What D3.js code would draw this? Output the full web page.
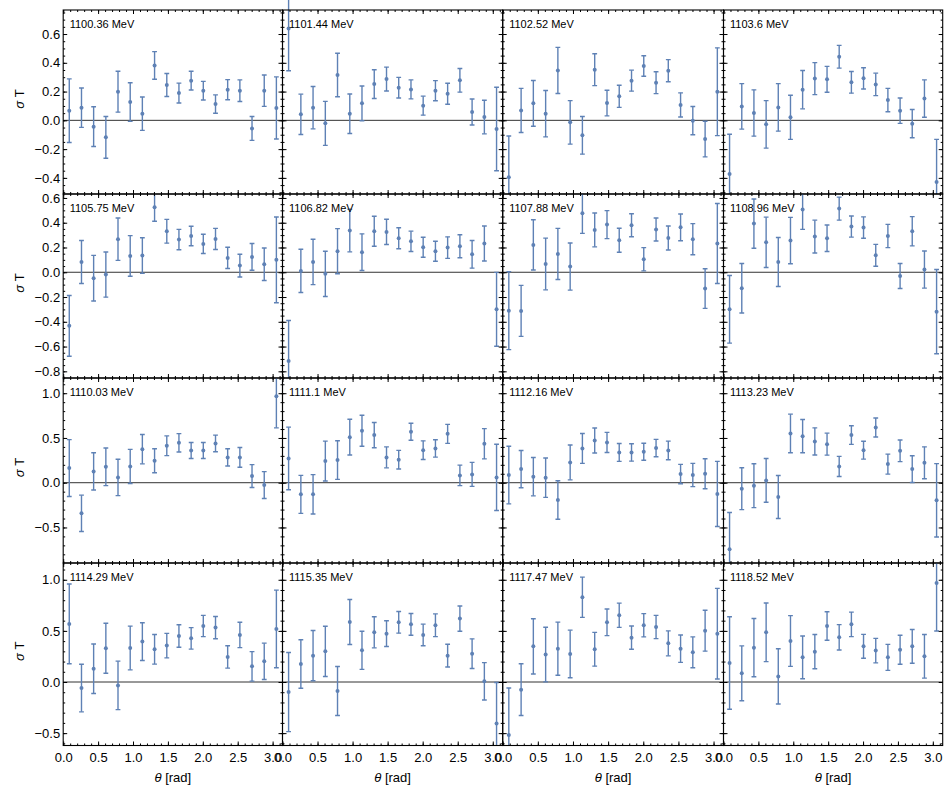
<!DOCTYPE html>
<html>
<head>
<meta charset="utf-8">
<script src="https://cdn.jsdelivr.net/npm/d3@7"></script>
<style>
  body { margin: 0; background: #fff; }
  svg { display: block; font-family: "Liberation Sans", Arial, sans-serif; }
</style>
</head>
<body>
<svg id="chart" width="944" height="790"></svg>
<script>
// theta bin centres (rad), 18 bins
var theta = [0.087, 0.262, 0.436, 0.611, 0.785, 0.960, 1.134, 1.309, 1.484, 1.658, 1.833, 2.007, 2.182, 2.356, 2.531, 2.705, 2.880, 3.054];

var energies = ["1100.36", "1101.44", "1102.52", "1103.6", "1105.75", "1106.82", "1107.88", "1108.96",
                "1110.03", "1111.1", "1112.16", "1113.23", "1114.29", "1115.35", "1117.47", "1118.52"];

// sigma T and its error, one pair of arrays per energy
var st_1100_36 = [0.067, 0.088, -0.044, -0.118, 0.199, 0.127, 0.046, 0.382, 0.246, 0.19, 0.276, 0.206, 0.113, 0.213, 0.206, -0.056, 0.206, 0.086];
var er_1100_36 = [0.221, 0.137, 0.138, 0.145, 0.142, 0.134, 0.116, 0.096, 0.08, 0.069, 0.065, 0.065, 0.064, 0.07, 0.075, 0.083, 0.109, 0.216];
var st_1101_44 = [0.639, 0.042, 0.088, -0.021, 0.315, 0.046, 0.118, 0.252, 0.287, 0.227, 0.215, 0.102, 0.206, 0.185, 0.278, 0.058, 0.023, -0.06];
var er_1101_44 = [0.294, 0.14, 0.147, 0.153, 0.151, 0.137, 0.121, 0.1, 0.083, 0.072, 0.066, 0.066, 0.07, 0.073, 0.082, 0.09, 0.117, 0.29];
var st_1102_52 = [-0.396, 0.069, 0.118, 0.046, 0.347, -0.014, -0.104, 0.352, 0.12, 0.167, 0.276, 0.378, 0.262, 0.345, 0.107, -0.002, -0.13, 0.199];
var er_1102_52 = [0.287, 0.153, 0.159, 0.161, 0.16, 0.151, 0.131, 0.111, 0.089, 0.077, 0.073, 0.071, 0.076, 0.077, 0.084, 0.098, 0.124, 0.305];
var st_1103_6 = [-0.373, 0.097, 0.051, -0.028, 0.09, 0.021, 0.213, 0.29, 0.285, 0.442, 0.264, 0.292, 0.25, 0.141, 0.067, -0.023, 0.151, -0.429];
var er_1103_6 = [0.276, 0.158, 0.161, 0.165, 0.165, 0.153, 0.133, 0.111, 0.09, 0.079, 0.075, 0.074, 0.078, 0.081, 0.088, 0.098, 0.13, 0.297];
var st_1105_75 = [-0.433, 0.083, -0.048, -0.019, 0.267, 0.132, 0.135, 0.525, 0.331, 0.264, 0.293, 0.229, 0.269, 0.116, 0.054, 0.124, 0.065, 0.1];
var er_1105_75 = [0.245, 0.174, 0.184, 0.182, 0.171, 0.164, 0.144, 0.113, 0.096, 0.082, 0.079, 0.078, 0.085, 0.086, 0.092, 0.108, 0.131, 0.346];
var st_1106_82 = [-0.716, 0.011, 0.083, -0.013, 0.17, 0.337, 0.162, 0.331, 0.326, 0.275, 0.25, 0.202, 0.17, 0.199, 0.21, 0.145, 0.232, -0.299];
var er_1106_82 = [0.326, 0.175, 0.183, 0.183, 0.182, 0.172, 0.148, 0.121, 0.102, 0.085, 0.082, 0.081, 0.081, 0.087, 0.093, 0.112, 0.141, 0.298];
var st_1107_88 = [-0.31, -0.312, 0.221, 0.067, 0.148, 0.046, 0.477, 0.342, 0.385, 0.258, 0.38, 0.105, 0.345, 0.277, 0.363, 0.267, -0.132, 0.232];
var er_1107_88 = [0.315, 0.206, 0.203, 0.209, 0.206, 0.19, 0.163, 0.137, 0.113, 0.097, 0.093, 0.094, 0.093, 0.097, 0.108, 0.126, 0.16, 0.323];
var st_1108_96 = [-0.299, -0.129, 0.393, 0.242, 0.083, 0.256, 0.506, 0.288, 0.275, 0.514, 0.369, 0.361, 0.137, 0.293, -0.03, 0.331, 0.022, -0.318];
var er_1108_96 = [0.273, 0.2, 0.199, 0.203, 0.198, 0.187, 0.16, 0.133, 0.107, 0.093, 0.085, 0.086, 0.088, 0.094, 0.101, 0.118, 0.15, 0.34];
var st_1110_03 = [0.164, -0.342, 0.126, 0.178, 0.059, 0.182, 0.375, 0.245, 0.413, 0.446, 0.36, 0.36, 0.439, 0.283, 0.283, 0.074, -0.026, 0.967];
var er_1110_03 = [0.318, 0.203, 0.208, 0.21, 0.203, 0.19, 0.164, 0.134, 0.11, 0.102, 0.089, 0.089, 0.093, 0.097, 0.11, 0.128, 0.15, 0.354];
var st_1111_1 = [0.271, -0.13, -0.13, 0.242, 0.253, 0.509, 0.58, 0.532, 0.283, 0.257, 0.569, 0.364, 0.383, 0.546, 0.082, 0.093, 0.435, 0.059];
var er_1111_1 = [0.35, 0.212, 0.22, 0.223, 0.216, 0.2, 0.173, 0.141, 0.117, 0.104, 0.095, 0.104, 0.097, 0.106, 0.115, 0.134, 0.169, 0.37];
var st_1112_16 = [0.086, 0.152, 0.067, 0.056, -0.193, 0.227, 0.383, 0.472, 0.45, 0.338, 0.338, 0.346, 0.387, 0.361, 0.097, 0.086, 0.1, -0.126];
var er_1112_16 = [0.322, 0.208, 0.214, 0.22, 0.215, 0.195, 0.167, 0.14, 0.113, 0.1, 0.097, 0.095, 0.097, 0.104, 0.108, 0.13, 0.167, 0.364];
var st_1113_23 = [-0.743, -0.067, -0.033, 0.026, -0.16, 0.55, 0.52, 0.461, 0.431, 0.182, 0.532, 0.364, 0.617, 0.208, 0.357, 0.152, 0.223, -0.197];
var er_1113_23 = [0.41, 0.234, 0.245, 0.245, 0.24, 0.216, 0.186, 0.152, 0.123, 0.112, 0.104, 0.1, 0.106, 0.112, 0.121, 0.149, 0.178, 0.41];
var st_1114_29 = [0.568, -0.059, 0.13, 0.33, -0.033, 0.333, 0.395, 0.32, 0.356, 0.45, 0.427, 0.548, 0.532, 0.245, 0.46, 0.153, 0.202, 0.519];
var er_1114_29 = [0.39, 0.233, 0.242, 0.245, 0.237, 0.214, 0.184, 0.145, 0.12, 0.11, 0.105, 0.104, 0.109, 0.109, 0.124, 0.144, 0.178, 0.38];
var st_1115_35 = [-0.098, 0.176, 0.258, 0.3, -0.088, 0.587, 0.31, 0.486, 0.473, 0.584, 0.564, 0.46, 0.555, 0.258, 0.62, 0.277, 0.007, -0.405];
var er_1115_35 = [0.387, 0.237, 0.246, 0.246, 0.24, 0.22, 0.186, 0.152, 0.126, 0.106, 0.106, 0.106, 0.111, 0.111, 0.124, 0.145, 0.183, 0.4];
var st_1117_47 = [-0.519, -0.075, 0.349, 0.268, 0.326, 0.274, 0.829, 0.32, 0.584, 0.653, 0.434, 0.555, 0.538, 0.378, 0.326, 0.29, 0.502, 0.473];
var er_1117_47 = [0.46, 0.253, 0.27, 0.267, 0.26, 0.233, 0.197, 0.165, 0.13, 0.119, 0.114, 0.114, 0.114, 0.122, 0.134, 0.151, 0.2, 0.443];
var st_1118_52 = [0.186, 0.085, 0.336, 0.486, 0.055, 0.401, 0.241, 0.297, 0.548, 0.437, 0.564, 0.349, 0.307, 0.241, 0.316, 0.349, 0.251, 0.969];
var er_1118_52 = [0.452, 0.268, 0.285, 0.287, 0.27, 0.248, 0.209, 0.168, 0.139, 0.124, 0.12, 0.117, 0.12, 0.127, 0.142, 0.165, 0.213, 0.47];

// axis ranges and ticks
var rowRanges = [[-0.512, 0.767], [-0.854, 0.632], [-0.897, 1.17], [-0.621, 1.164]];
var rowTicks = [[-0.4, -0.2, 0, 0.2, 0.4, 0.6], [-0.8, -0.6, -0.4, -0.2, 0, 0.2, 0.4, 0.6], [-0.5, 0, 0.5, 1.0], [-0.5, 0, 0.5, 1.0]];
var rowMinorStep = [0.05, 0.05, 0.1, 0.1];
var xTicks = [0, 0.5, 1.0, 1.5, 2.0, 2.5, 3.0];

var series = [
  [st_1100_36, er_1100_36], [st_1101_44, er_1101_44], [st_1102_52, er_1102_52], [st_1103_6, er_1103_6],
  [st_1105_75, er_1105_75], [st_1106_82, er_1106_82], [st_1107_88, er_1107_88], [st_1108_96, er_1108_96],
  [st_1110_03, er_1110_03], [st_1111_1, er_1111_1], [st_1112_16, er_1112_16], [st_1113_23, er_1113_23],
  [st_1114_29, er_1114_29], [st_1115_35, er_1115_35], [st_1117_47, er_1117_47], [st_1118_52, er_1118_52]
];

// panel grid (pixel edges)
var colEdges = [63.2, 282.5, 502.7, 723.5, 942.7];
var rowEdges = [10, 194, 378, 563, 745.5];

var blue = "#5e81b5";
var fmt = d3.format(".1f");
var noLabel = function() { return ""; };

var svg = d3.select("#chart");
var defs = svg.append("defs");

series.forEach(function(s, k) {
  var r = Math.floor(k / 4), c = k % 4;
  var x0 = colEdges[c], x1 = colEdges[c + 1], y0 = rowEdges[r], y1 = rowEdges[r + 1];

  var x = d3.scaleLinear().domain([0, Math.PI]).range([x0, x1]);
  var y = d3.scaleLinear().domain(rowRanges[r]).range([y1, y0]);

  // top row may spill into the padding above the frame
  var clipTop = r === 0 ? 0 : y0;
  defs.append("clipPath").attr("id", "clip" + k).append("rect")
    .attr("x", x0).attr("y", clipTop)
    .attr("width", x1 - x0).attr("height", y1 - clipTop);

  var g = svg.append("g");

  // zero line
  g.append("line")
    .attr("x1", x0).attr("x2", x1)
    .attr("y1", y(0)).attr("y2", y(0))
    .attr("stroke", "#333").attr("stroke-width", 1);

  var data = theta.map(function(t, i) { return { t: t, v: s[0][i], e: s[1][i] }; });

  var marks = g.append("g").attr("clip-path", "url(#clip" + k + ")");
  var pts = marks.selectAll("g").data(data).enter().append("g")
    .attr("stroke", blue).attr("stroke-width", 1.4);

  pts.append("line")
    .attr("x1", function(d) { return x(d.t); })
    .attr("x2", function(d) { return x(d.t); })
    .attr("y1", function(d) { return y(d.v - d.e); })
    .attr("y2", function(d) { return y(d.v + d.e); });
  // caps
  pts.append("line")
    .attr("x1", function(d) { return x(d.t) - 2.4; })
    .attr("x2", function(d) { return x(d.t) + 2.4; })
    .attr("y1", function(d) { return y(d.v + d.e); })
    .attr("y2", function(d) { return y(d.v + d.e); });
  pts.append("line")
    .attr("x1", function(d) { return x(d.t) - 2.4; })
    .attr("x2", function(d) { return x(d.t) + 2.4; })
    .attr("y1", function(d) { return y(d.v - d.e); })
    .attr("y2", function(d) { return y(d.v - d.e); });
  pts.append("circle")
    .attr("cx", function(d) { return x(d.t); })
    .attr("cy", function(d) { return y(d.v); })
    .attr("r", 2)
    .attr("fill", blue).attr("stroke", "none");

  // frame
  g.append("rect")
    .attr("x", x0).attr("y", y0)
    .attr("width", x1 - x0).attr("height", y1 - y0)
    .attr("fill", "none").attr("stroke", "#000").attr("stroke-width", 1.1);

  // ticks on all sides, pointing inward
  var xMinor = d3.range(0, 3.15, 0.1);
  var yMinor = d3.range(Math.ceil(rowRanges[r][0] / rowMinorStep[r]), Math.floor(rowRanges[r][1] / rowMinorStep[r]) + 1)
    .map(function(i) { return i * rowMinorStep[r]; });

  var axes = [
    ["b", d3.axisBottom(x).tickValues(xTicks).tickPadding(7).tickFormat(r === 3 ? fmt : noLabel), y1, 4],
    ["b", d3.axisBottom(x).tickValues(xMinor).tickFormat(noLabel), y1, 2],
    ["t", d3.axisTop(x).tickValues(xTicks).tickFormat(noLabel), y0, 4],
    ["t", d3.axisTop(x).tickValues(xMinor).tickFormat(noLabel), y0, 2],
    ["l", d3.axisLeft(y).tickValues(rowTicks[r]).tickPadding(3).tickFormat(c === 0 ? fmt : noLabel), x0, 4],
    ["l", d3.axisLeft(y).tickValues(yMinor).tickFormat(noLabel), x0, 2],
    ["r", d3.axisRight(y).tickValues(rowTicks[r]).tickFormat(noLabel), x1, 4],
    ["r", d3.axisRight(y).tickValues(yMinor).tickFormat(noLabel), x1, 2]
  ];
  axes.forEach(function(a) {
    var ax = a[1].tickSizeInner(-a[3]).tickSizeOuter(0);
    var tr = (a[0] === "b" || a[0] === "t") ? "translate(0," + a[2] + ")" : "translate(" + a[2] + ",0)";
    var ag = g.append("g").attr("transform", tr).call(ax);
    ag.select(".domain").remove();
    ag.selectAll(".tick line").attr("stroke", "#000").attr("stroke-width", 1);
    ag.selectAll(".tick text").attr("fill", "#000").style("font-size", "13px")
      .style("font-family", "'Liberation Sans', Arial, sans-serif");
  });

  // energy label
  g.append("text")
    .attr("x", x0 + 6.5).attr("y", y0 + 17.5)
    .style("font-size", "11px").attr("fill", "#000")
    .text(energies[k] + " MeV");
});

// y labels, one per row
rowEdges.slice(0, 4).forEach(function(top, r) {
  var cy = (top + rowEdges[r + 1]) / 2 - 3;
  var t = svg.append("text")
    .attr("transform", "translate(24," + cy + ") rotate(-90)")
    .attr("text-anchor", "middle")
    .style("font-size", "13px");
  t.append("tspan").style("font-style", "italic").text("σ");
  t.append("tspan").text(" T");
});

// x labels, one per column
colEdges.slice(0, 4).forEach(function(left, c) {
  var cx = (left + colEdges[c + 1]) / 2;
  var t = svg.append("text")
    .attr("x", cx).attr("y", 782)
    .attr("text-anchor", "middle")
    .style("font-size", "13px");
  t.append("tspan").style("font-style", "italic").text("θ");
  t.append("tspan").text(" [rad]");
});
</script>
</body>
</html>
